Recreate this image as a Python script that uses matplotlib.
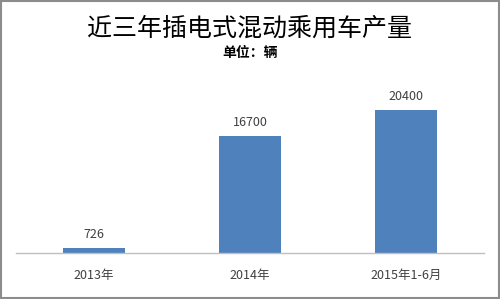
import matplotlib
matplotlib.use("Agg")
import matplotlib.pyplot as plt
from matplotlib.patches import Rectangle

plt.rcParams['font.family'] = ['Noto Sans CJK SC', 'DejaVu Sans']

# data
categories = ["2013年", "2014年", "2015年1-6月"]
values = [726, 16700, 20400]
title = "近三年插电式混动乘用车产量"
subtitle = "单位：辆"

fig = plt.figure(figsize=(5.0, 2.99), dpi=100)
ax = fig.add_axes([0.032, 0.155, 0.936, 0.584])

x = range(len(categories))
bars = ax.bar(x, values, width=0.4, color="#4F81BD")
ax.set_xlim(-0.5, len(categories) - 0.5)
ax.set_ylim(0, 25000)

for b, v in zip(bars, values):
    ax.annotate(str(v), (b.get_x() + b.get_width() / 2, b.get_height()),
                xytext=(0, 5), textcoords="offset points",
                ha="center", va="bottom", fontsize=9, color="#404040")

ax.set_xticks(list(x))
ax.set_xticklabels(categories, fontsize=9, color="#404040")
ax.tick_params(axis="x", length=0, pad=12)
ax.set_yticks([])
for s in ["top", "left", "right"]:
    ax.spines[s].set_visible(False)
ax.spines["bottom"].set_color("#BFBFBF")
ax.spines["bottom"].set_linewidth(1.0)

fig.text(0.5, 1 - 29 / 299, title, ha="center", va="center", fontsize=18,
         fontweight="light", color="black")
fig.text(0.5, 1 - 53 / 299, subtitle, ha="center", va="center", fontsize=10,
         fontweight="bold", color="black")

# outer border
fig.patches.append(Rectangle((0.002, 0.003), 0.996, 0.994, transform=fig.transFigure,
                             fill=False, edgecolor="#8C8C8C", linewidth=1.5))

fig.savefig("out.png", dpi=100)
